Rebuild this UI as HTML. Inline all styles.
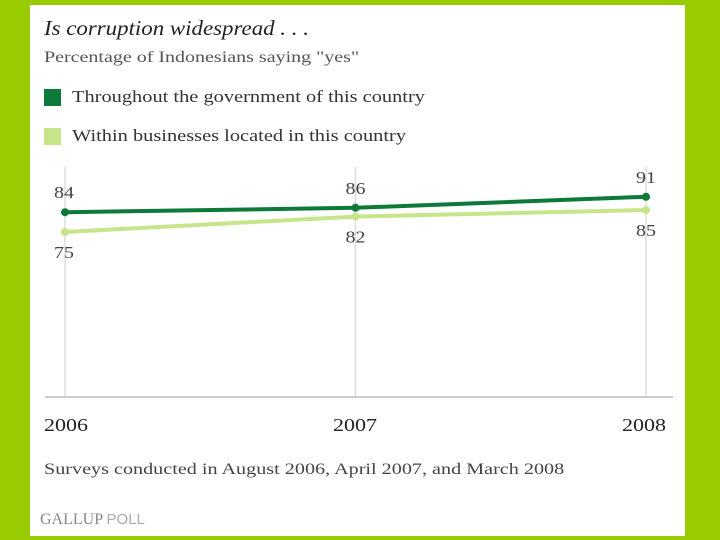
<!DOCTYPE html>
<html><head><meta charset="utf-8"><style>
body{margin:0;width:720px;height:540px;background:#99cc00;overflow:hidden;font-family:"Liberation Serif",serif;}
#panel{position:absolute;left:30px;top:5px;width:655px;height:531px;background:#fff;}
.t{position:absolute;white-space:nowrap;color:#333;transform-origin:left top;}
</style></head><body>
<div id="panel"></div>
<div class="t" style="left:44px;top:16px;font-size:21px;font-style:italic;color:#222;transform:scaleX(1.09);">Is corruption widespread . . .</div>
<div class="t" style="left:44px;top:49px;font-size:16px;color:#555;transform:scaleX(1.25);">Percentage of Indonesians saying "yes"</div>
<div style="position:absolute;left:44px;top:89px;width:17px;height:17px;background:#0e7a3a;"></div>
<div class="t" style="left:72px;top:87px;font-size:17px;transform:scaleX(1.2);">Throughout the government of this country</div>
<div style="position:absolute;left:44px;top:128px;width:17px;height:17px;background:#c6e58a;"></div>
<div class="t" style="left:72px;top:126px;font-size:17px;transform:scaleX(1.2);">Within businesses located in this country</div>
<svg id="chart" width="720" height="540" style="position:absolute;left:0;top:0;font-family:'Liberation Serif',serif;"></svg>
<div class="t" style="left:44px;top:461px;font-size:16px;color:#444;transform:scaleX(1.26);">Surveys conducted in August 2006, April 2007, and March 2008</div>
<div class="t" style="left:40px;top:511px;font-size:16px;color:#888;">GALLUP <span style="font-family:'Liberation Sans',sans-serif;color:#aaa;font-size:15px;">POLL</span></div>
<script>
const years=["2006","2007","2008"];
const government=[84,86,91];
const businesses=[75,82,85];
const svg=document.getElementById('chart');
const NS='http://www.w3.org/2000/svg';
function xs(i){return 65+i*290.5;}
function ys(v){return 397-2.2*v;}
function mk(tag,attrs){const e=document.createElementNS(NS,tag);for(const k in attrs)e.setAttribute(k,attrs[k]);svg.appendChild(e);return e;}
years.forEach((y,i)=>{
  const g=mk('line',{x1:xs(i),x2:xs(i),y1:167,y2:397,stroke:'#ddd','stroke-width':1.5});
  
  
  const x0=i==0?44:(i==2?622:333);
  const t=mk('text',{x:x0,y:431,'font-size':18,fill:'#222',textLength:44,lengthAdjust:'spacingAndGlyphs'});
  t.textContent=y;
  
  
});
const ax=mk('line',{x1:45,x2:673,y1:397,y2:397,stroke:'#ccc','stroke-width':2});


function series(vals,color,name,above){
  const p=mk('polyline',{points:vals.map((v,i)=>xs(i)+','+ys(v)).join(' '),fill:'none',stroke:color,'stroke-width':4});
  
  
  vals.forEach((v,i)=>{
    const c=mk('circle',{cx:xs(i),cy:ys(v),r:4,fill:color});
    
    
    const lx=i==0?64:xs(i);
    const t=mk('text',{x:lx-10,y:above?ys(v)-14:ys(v)+26,'font-size':17,fill:'#444',textLength:20,lengthAdjust:'spacingAndGlyphs'});
    t.textContent=v;
    
    
  });
}
series(businesses,'#c6e58a','businesses',false);
series(government,'#0e7a3a','government',true);
</script>
</body></html>
